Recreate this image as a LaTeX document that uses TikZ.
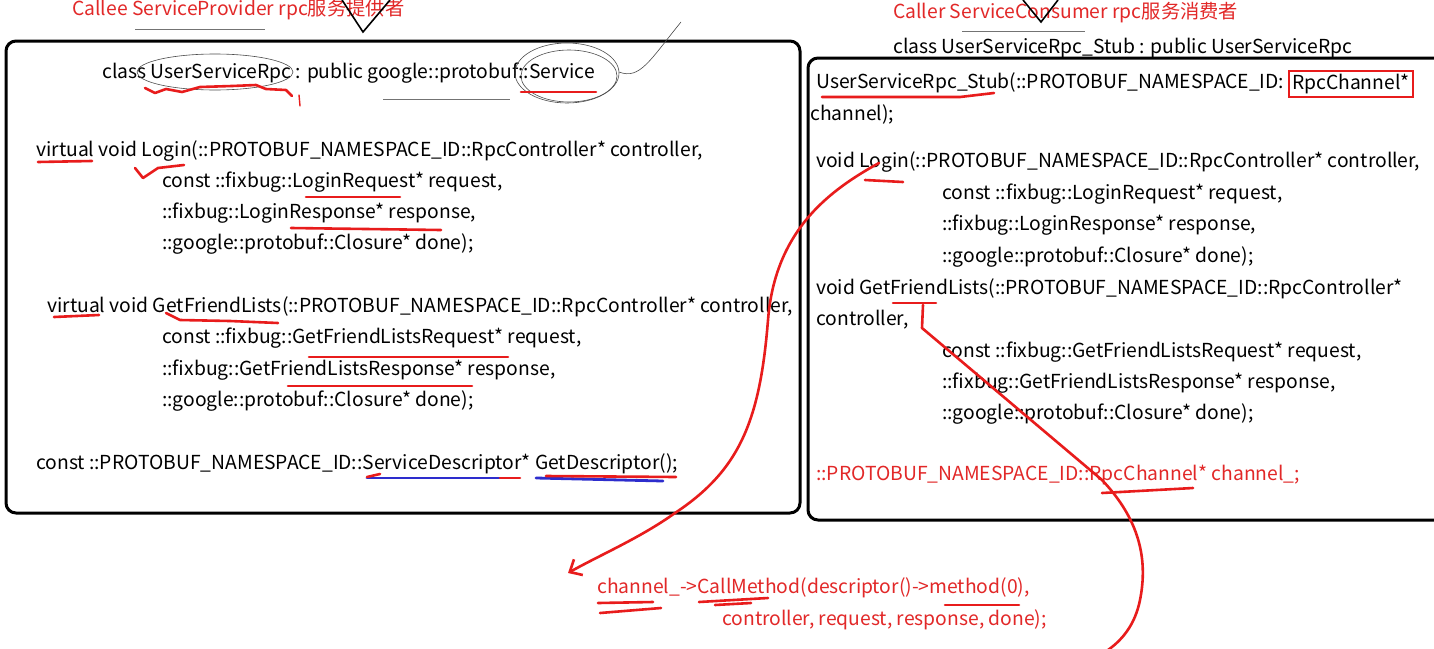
\documentclass[tikz,border=0pt]{standalone}
\usepackage{fontspec}
\setmainfont{Noto Sans CJK SC}
\usetikzlibrary{arrows.meta,calc}
\definecolor{penred}{RGB}{232,28,28}
\definecolor{penblue}{RGB}{45,45,205}
\definecolor{textred}{RGB}{226,40,40}

\begin{document}
\begin{tikzpicture}[x=1pt,y=-1pt,
  code/.style={anchor=west, inner sep=0pt, font=\fontsize{19.3}{23}\selectfont},
  redcode/.style={code, text=textred},
  pen/.style={penred, line width=2.6pt, line cap=round, line join=round},
  bluepen/.style={penblue, line width=2.8pt, line cap=round},
  scribble/.style={black!70, line width=0.6pt},
  guide/.style={black!55, line width=0.8pt},
  panel/.style={line width=3pt, rounded corners=10pt}]

\useasboundingbox (0,0) rectangle (1434,648);
\fill[white] (0,0) rectangle (1434,648);

% --- Titles ---
\node[redcode] (callee) at (72,10) {Callee ServiceProvider rpc服务提供者};
\node[redcode] (caller) at (893,13) {Caller ServiceConsumer rpc服务消费者};
\draw[guide] (135,29) -- (265,29);
\draw[guide] (962,31) -- (1085,31);
\draw[guide] (383,99) -- (510,99);

% V marks
\draw[line width=1.6pt] (342,0) -- (363,32) -- (390,0);
\draw[line width=1.6pt] (1023,0) -- (1041,22) -- (1058,0);

% --- Provider panel ---
\draw[panel] (6,41) rectangle (800,513);

\node[code] (pclass) at (102,73) {class UserServiceRpc : public google::protobuf::Service};
\node[code] (plogin) at (36,151) {virtual void Login(::PROTOBUF\_NAMESPACE\_ID::RpcController* controller,};
\node[code] (plogin1) at (162,182) {const ::fixbug::LoginRequest* request,};
\node[code] (plogin2) at (162,213) {::fixbug::LoginResponse* response,};
\node[code] (plogin3) at (162,244) {::google::protobuf::Closure* done);};
\node[code] (pfriend) at (47,307) {virtual void GetFriendLists(::PROTOBUF\_NAMESPACE\_ID::RpcController* controller,};
\node[code] (pfriend1) at (162,338) {const ::fixbug::GetFriendListsRequest* request,};
\node[code] (pfriend2) at (162,370) {::fixbug::GetFriendListsResponse* response,};
\node[code] (pfriend3) at (162,401) {::google::protobuf::Closure* done);};
\node[code] (pdesc) at (36,464) {const ::PROTOBUF\_NAMESPACE\_ID::ServiceDescriptor* GetDescriptor();};

% scribbles round the class line
\draw[scribble] (215,72) ellipse (78 and 18);
\draw[scribble] (567,73) ellipse (52 and 30);
\draw[scribble] (569,76) ellipse (48 and 26);
\draw[scribble] (619,72) .. controls (640,80) and (650,60) .. (681,22);

% red marks, provider side
\draw[pen] (145,88) -- (155,93) -- (166,89) -- (182,92) -- (200,87) -- (232,86) -- (256,85) -- (266,89) -- (286,90) -- (292,96);
\draw[pen, line width=1.4pt] (299,95) -- (300,106);
\draw[pen] (521,92) -- (596,92);
\draw[pen] (38,162) -- (92,161);
\draw[pen] (135,168) -- (143,178) -- (158,168) -- (184,165);
\draw[pen] (306,197) -- (400,197);
\draw[pen] (291,228) -- (441,230);
\draw[pen] (54,317) -- (99,315);
\draw[pen] (166,313) -- (180,320) -- (230,321) -- (278,323);
\draw[pen] (309,357) -- (508,357);
\draw[pen] (288,386) -- (472,386);
\draw[bluepen] (367,478) -- (510,478);
\draw[pen] (367,477) -- (380,474);
\draw[pen] (500,478) -- (520,478);
\draw[bluepen] (536,478) -- (663,481);
\draw[pen] (546,476) -- (676,477);

% --- Consumer panel ---
\draw[panel] (808,58) rectangle (1450,520);

\node[code] (cclass) at (893,48) {class UserServiceRpc\_Stub : public UserServiceRpc};
\node[code] (cstub) at (816,83) {UserServiceRpc\_Stub(::PROTOBUF\_NAMESPACE\_ID:};
\node[code, draw=penred, line width=2pt, inner sep=3pt] (cchan) at (1288,84) {RpcChannel*};
\node[code] (cstub1) at (810,114) {channel);};
\node[code] (clogin) at (816,162) {void Login(::PROTOBUF\_NAMESPACE\_ID::RpcController* controller,};
\node[code] (clogin1) at (942,194) {const ::fixbug::LoginRequest* request,};
\node[code] (clogin2) at (942,225) {::fixbug::LoginResponse* response,};
\node[code] (clogin3) at (942,257) {::google::protobuf::Closure* done);};
\node[code] (cfriend) at (816,289) {void GetFriendLists(::PROTOBUF\_NAMESPACE\_ID::RpcController*};
\node[code] (cfriend0) at (816,320) {controller,};
\node[code] (cfriend1) at (942,352) {const ::fixbug::GetFriendListsRequest* request,};
\node[code] (cfriend2) at (942,383) {::fixbug::GetFriendListsResponse* response,};
\node[code] (cfriend3) at (942,414) {::google::protobuf::Closure* done);};
\node[redcode] (cmember) at (816,475) {::PROTOBUF\_NAMESPACE\_ID::RpcChannel* channel\_;};

% red marks, consumer side
\draw[pen] (822,97) -- (960,97) -- (994,93);
\draw[pen] (865,180) -- (903,182);
\draw[pen] (893,303) -- (936,303);
\draw[pen] (1102,493) -- (1193,488);

% --- CallMethod ---
\node[redcode] (call) at (597,588) {channel\_->CallMethod(descriptor()->method(0),};
\node[redcode] (call1) at (722,620) {controller, request, response, done);};
\draw[pen] (598,603) -- (653,602);
\draw[pen] (600,613) -- (661,608);
\draw[pen] (699,602) -- (768,598);
\draw[pen] (715,605) -- (751,603);
\draw[pen] (945,605) -- (1019,605);

% arrows
\coordinate (loginmark) at (879,163);
\coordinate (calltip) at (568,573);
\coordinate (friendmark) at (923,305);
\coordinate (offpage) at (1108,650);
\draw[pen, -{Straight Barb[length=10pt,width=18pt]}] (loginmark) .. controls (830,190) and (775,230) .. (768,320)
  .. controls (760,420) and (740,470) .. (675,513) .. controls (640,538) and (600,555) .. (calltip);
\draw[pen] (friendmark) -- (922,328) -- (1102,480) .. controls (1140,520) and (1148,560) .. (1140,600) .. controls (1135,625) and (1122,640) .. (offpage);

\end{tikzpicture}
\end{document}
